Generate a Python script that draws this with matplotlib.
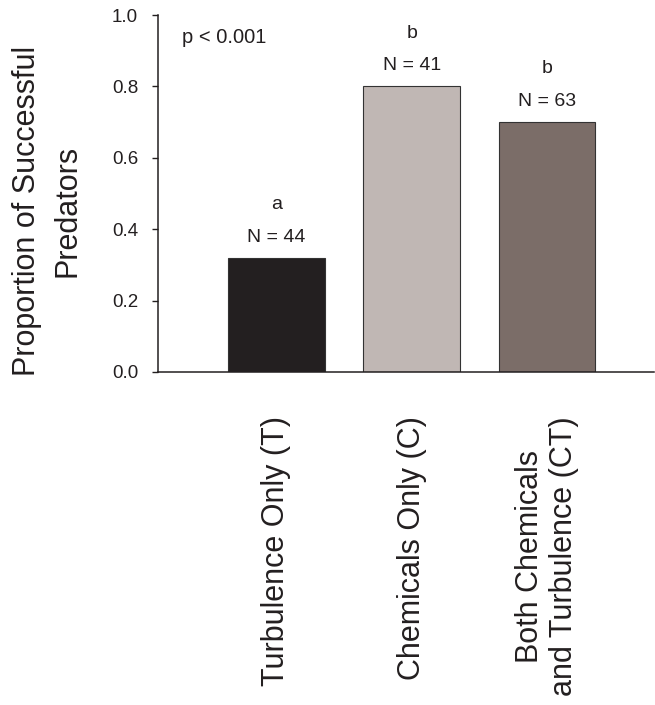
import matplotlib.pyplot as plt

plt.rcParams['font.family'] = ['Liberation Sans', 'DejaVu Sans']

# dados
categorias = ["Turbulence Only (T)", "Chemicals Only (C)",
              "Both Chemicals\nand Turbulence (CT)"]
proporcao = [0.32, 0.80, 0.70]
n_amostra = [44, 41, 63]
letras = ["a", "b", "b"]
cores = ["#231f20", "#c0b7b4", "#7b6d68"]

escuro = "#231f20"

fig = plt.figure(figsize=(6.55, 7.05), dpi=100)
ax = fig.add_axes([158 / 655, 1 - 372 / 705, 496 / 655, 357 / 705])

x = range(len(categorias))
ax.bar(x, proporcao, width=0.714, color=cores, edgecolor="#333333", linewidth=0.8)

for xi, p, n, l in zip(x, proporcao, n_amostra, letras):
    ax.annotate(f"N = {n}", (xi, p), xytext=(0, 11.5), textcoords="offset points",
                ha="center", va="baseline", fontsize=14, color=escuro)
    ax.annotate(l, (xi, p), xytext=(0, 35), textcoords="offset points",
                ha="center", va="baseline", fontsize=14, color=escuro)

ax.text(0.048, 0.922, "p < 0.001", transform=ax.transAxes, ha="left",
        va="baseline", fontsize=14.5, color=escuro)

ax.set_xlim(-0.876, 2.791)
ax.set_ylim(0, 1.0)
ax.set_yticks([0.0, 0.2, 0.4, 0.6, 0.8, 1.0])
ax.set_yticklabels(["0.0", "0.2", "0.4", "0.6", "0.8", "1.0"])
ax.set_xticks(list(x))
ax.set_xticklabels(categorias, rotation=90, fontsize=22, color=escuro)

ax.tick_params(axis="x", length=0, pad=32)
ax.tick_params(axis="y", length=4.3, width=1.0, pad=10, labelsize=13.5,
               color=escuro, labelcolor=escuro)

for lado in ["top", "right"]:
    ax.spines[lado].set_visible(False)
for lado in ["left", "bottom"]:
    ax.spines[lado].set_color(escuro)
    ax.spines[lado].set_linewidth(1.1)

ax.set_ylabel("Proportion of Successful\nPredators", fontsize=22, color=escuro,
              linespacing=1.45)
ax.yaxis.set_label_coords(-0.153, 0.451)

fig.savefig("out.png", dpi=100)
